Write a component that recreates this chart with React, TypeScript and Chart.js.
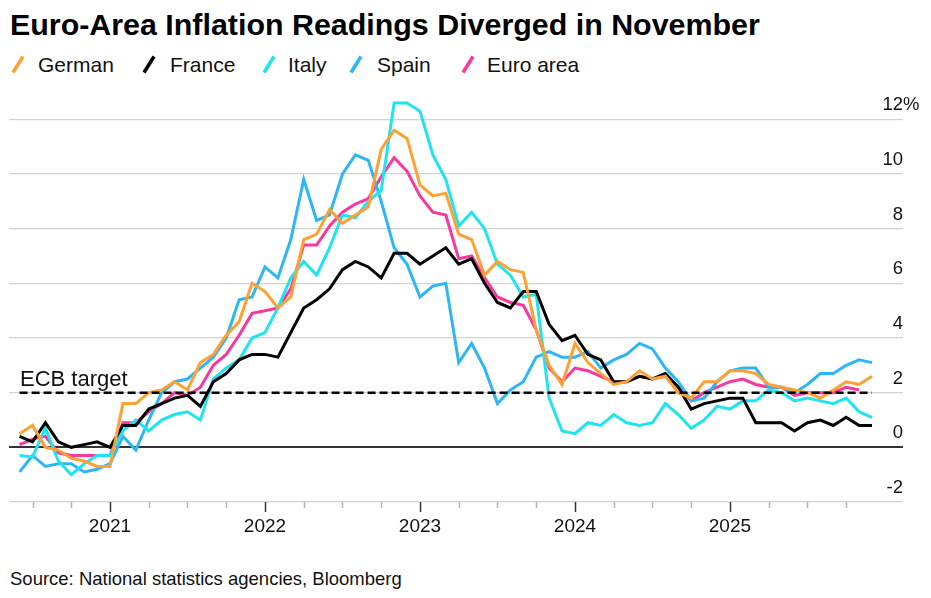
import React, { useEffect, useRef } from 'react';
import { Chart, registerables } from 'chart.js';

Chart.register(...registerables);

// Monthly HICP readings (% y/y), May 2020 – Nov 2025
const startYear = 2020;
const startMonth = 5;

const german = [
  0.5, 0.8, 0.0, -0.1, -0.4, -0.5, -0.7, -0.7,
  1.6, 1.6, 2.0, 2.1, 2.4, 2.1, 3.1, 3.4, 4.1, 4.6, 6.0, 5.7,
  5.1, 5.5, 7.6, 7.8, 8.7, 8.2, 8.5, 8.8, 10.9, 11.6, 11.3, 9.6,
  9.2, 9.3, 7.8, 7.6, 6.3, 6.8, 6.5, 6.4, 4.3, 3.0, 2.3, 3.8,
  3.1, 2.7, 2.3, 2.4, 2.8, 2.5, 2.6, 2.0, 1.8, 2.4, 2.4, 2.8,
  2.8, 2.7, 2.3, 2.2, 2.1, 2.0, 1.8, 2.1, 2.4, 2.3, 2.6,
];

const france = [
  0.4, 0.2, 0.9, 0.2, 0.0, 0.1, 0.2, 0.0,
  0.8, 0.8, 1.4, 1.6, 1.8, 1.9, 1.5, 2.4, 2.7, 3.2, 3.4, 3.4,
  3.3, 4.2, 5.1, 5.4, 5.8, 6.5, 6.8, 6.6, 6.2, 7.1, 7.1, 6.7,
  7.0, 7.3, 6.7, 6.9, 6.0, 5.3, 5.1, 5.7, 5.7, 4.5, 3.9, 4.1,
  3.4, 3.2, 2.4, 2.4, 2.6, 2.5, 2.7, 2.2, 1.4, 1.6, 1.7, 1.8,
  1.8, 0.9, 0.9, 0.9, 0.6, 0.9, 1.0, 0.8, 1.1, 0.8, 0.8,
];

const italy = [
  -0.3, -0.35, 0.7, -0.5, -1.0, -0.6, -0.3, -0.3,
  0.6, 1.0, 0.6, 1.0, 1.2, 1.3, 1.0, 2.5, 2.9, 3.2, 4.0, 4.2,
  5.1, 6.2, 6.8, 6.3, 7.3, 8.5, 8.4, 9.0, 9.4, 12.6, 12.6, 12.3,
  10.7, 9.8, 8.1, 8.6, 8.0, 6.7, 6.3, 5.5, 5.6, 1.8, 0.6, 0.5,
  0.9, 0.8, 1.2, 0.9, 0.8, 0.9, 1.6, 1.2, 0.7, 1.0, 1.5, 1.4,
  1.7, 1.7, 2.1, 2.0, 1.7, 1.8, 1.7, 1.6, 1.8, 1.3, 1.1,
];

const spain = [
  -0.9, -0.3, -0.7, -0.6, -0.6, -0.9, -0.8, -0.6,
  0.4, -0.1, 1.0, 2.0, 2.4, 2.5, 2.9, 3.3, 4.0, 5.4, 5.5, 6.6,
  6.2, 7.6, 9.8, 8.3, 8.5, 10.0, 10.7, 10.5, 9.0, 7.3, 6.7, 5.5,
  5.9, 6.0, 3.1, 3.8, 2.9, 1.6, 2.1, 2.4, 3.3, 3.5, 3.3, 3.3,
  3.5, 2.9, 3.2, 3.4, 3.8, 3.6, 2.9, 2.4, 1.7, 1.8, 2.4, 2.8,
  2.9, 2.9, 2.2, 2.2, 2.0, 2.3, 2.7, 2.7, 3.0, 3.2, 3.1,
];

const euroArea = [
  0.1, 0.3, 0.4, -0.2, -0.3, -0.3, -0.3, -0.3,
  0.9, 0.9, 1.3, 1.6, 2.0, 1.9, 2.2, 3.0, 3.4, 4.1, 4.9, 5.0,
  5.1, 5.8, 7.4, 7.4, 8.1, 8.6, 8.9, 9.1, 9.9, 10.6, 10.1, 9.2,
  8.6, 8.5, 6.9, 7.0, 6.2, 5.5, 5.3, 5.2, 4.3, 2.9, 2.4, 2.9,
  2.8, 2.6, 2.4, 2.4, 2.6, 2.5, 2.6, 2.2, 1.7, 2.0, 2.2, 2.4,
  2.5, 2.3, 2.2, 2.2, 1.9, 2.0, 2.0, 2.0, 2.2, 2.1,
];

const seriesNames = ['German', 'France', 'Italy', 'Spain', 'Euro area'];
const seriesValues = [german, france, italy, spain, euroArea];
const seriesColors = ['#FFA033', '#000000', '#1FE3F0', '#2DB6F3', '#F7399F'];

const ecbTarget = 2;
const ecbLabel = 'ECB target';
const yTickValues = [-2, 0, 2, 4, 6, 8, 10, 12];
const yearLabels = ['2021', '2022', '2023', '2024', '2025'];

const titleText = 'Euro-Area Inflation Readings Diverged in November';
const sourceText = 'Source: National statistics agencies, Bloomberg';

// x value: months after 1 Jan 2021, each reading placed at its month end
const monthX = (i: number) => (startYear - 2021) * 12 + startMonth + i;

const FONT = '"Liberation Sans", Arial, sans-serif';
const TEXT = '#111111';

const legendLayout = [
  { icon: 11, text: 38 },
  { icon: 142, text: 170 },
  { icon: 262, text: 288 },
  { icon: 349, text: 377 },
  { icon: 461, text: 487 },
];

const axesPlugin = {
  id: 'bbgAxes',
  afterDraw(chart: any) {
    const { ctx, chartArea } = chart;
    const xs = chart.scales.x;
    const ys = chart.scales.y;
    ctx.save();
    // x tick marks (quarterly), major at years
    const lastX = monthX(german.length - 1);
    for (let v = Math.ceil(xs.min / 3) * 3; v <= lastX; v += 3) {
      const px = Math.round(xs.getPixelForValue(v)) + 0.5;
      const major = v % 12 === 0;
      ctx.beginPath();
      ctx.strokeStyle = major ? '#333333' : '#b4b4b4';
      ctx.lineWidth = 1.5;
      ctx.moveTo(px, chartArea.bottom);
      ctx.lineTo(px, chartArea.bottom + (major ? 10 : 6));
      ctx.stroke();
    }
    // year labels
    ctx.fillStyle = TEXT;
    ctx.font = `19px ${FONT}`;
    ctx.textAlign = 'center';
    ctx.textBaseline = 'alphabetic';
    yearLabels.forEach((lab) => {
      const v = (parseInt(lab, 10) - 2021) * 12;
      ctx.fillText(lab, xs.getPixelForValue(v), chartArea.bottom + 29.5);
    });
    // y labels above gridlines, right side
    ctx.font = `18.5px ${FONT}`;
    const maxTick = yTickValues[yTickValues.length - 1];
    yTickValues.forEach((v) => {
      const py = ys.getPixelForValue(v) - 9;
      ctx.textAlign = 'right';
      ctx.fillText(String(v), chartArea.right, py);
      if (v === maxTick) {
        ctx.textAlign = 'left';
        ctx.fillText('%', chartArea.right, py);
      }
    });
    // ECB target label
    ctx.font = `22px ${FONT}`;
    ctx.textAlign = 'left';
    ctx.fillText(ecbLabel, chartArea.left + 11, ys.getPixelForValue(ecbTarget) - 7);
    ctx.restore();
  },
};

function LegendIcon({ color }: { color: string }) {
  return (
    <svg width="14" height="19" viewBox="0 0 14 19" style={{ display: 'block' }}>
      <line x1="2" y1="17.5" x2="12" y2="1.5" stroke={color} strokeWidth="3.6" />
    </svg>
  );
}

export default function App() {
  const canvasRef = useRef<HTMLCanvasElement | null>(null);

  useEffect(() => {
    const canvas = canvasRef.current;
    if (!canvas) return;
    const firstX = monthX(0);
    const lastX = monthX(german.length - 1);
    const datasets: any[] = [
      {
        label: ecbLabel,
        data: [
          { x: firstX, y: ecbTarget },
          { x: lastX, y: ecbTarget },
        ],
        borderColor: '#000000',
        borderWidth: 2.5,
        borderDash: [8, 4],
        pointRadius: 0,
      },
      ...seriesNames.map((name, k) => ({
        label: name,
        data: seriesValues[k].map((v, i) => ({ x: monthX(i), y: v })),
        borderColor: seriesColors[k],
        borderWidth: 3,
        pointRadius: 0,
        tension: 0,
      })),
    ];
    const chart = new Chart(canvas, {
      type: 'line',
      data: { datasets },
      options: {
        animation: false,
        responsive: false,
        maintainAspectRatio: false,
        devicePixelRatio: 1,
        layout: { padding: { left: 9, right: 28, top: 7, bottom: 0 } },
        plugins: { legend: { display: false }, tooltip: { enabled: false }, title: { display: false } },
        elements: { point: { radius: 0 }, line: { borderJoinStyle: 'miter' } },
        scales: {
          x: {
            type: 'linear',
            min: -7.82,
            max: 61.4,
            grid: { display: false, drawTicks: false },
            border: { display: false },
            ticks: { display: false },
            afterFit: (s: any) => {
              s.height = 53;
            },
          },
          y: {
            type: 'linear',
            min: -2,
            max: 13,
            afterBuildTicks: (s: any) => {
              s.ticks = yTickValues.map((v) => ({ value: v }));
            },
            grid: {
              color: (c: any) => (c.tick && c.tick.value === 0 ? '#333333' : '#d3d3d3'),
              lineWidth: (c: any) => (c.tick && c.tick.value === 0 ? 2 : 1.2),
              drawTicks: false,
            },
            border: { display: false },
            ticks: { display: false },
            afterFit: (s: any) => {
              s.width = 0;
            },
          },
        },
      } as any,
      plugins: [axesPlugin],
    });
    return () => chart.destroy();
  }, []);

  return (
    <div
      style={{
        position: 'absolute',
        left: 0,
        top: 0,
        width: 931,
        height: 598,
        background: '#ffffff',
        fontFamily: FONT,
        color: TEXT,
        overflow: 'hidden',
      }}
    >
      <div
        style={{
          position: 'absolute',
          left: 10,
          top: 9.1,
          fontSize: 30.4,
          lineHeight: '30.4px',
          fontWeight: 700,
          whiteSpace: 'nowrap',
          color: '#000',
        }}
      >
        {titleText}
      </div>
      {seriesNames.map((name, k) => (
        <React.Fragment key={name}>
          <div style={{ position: 'absolute', left: legendLayout[k].icon, top: 55 }}>
            <LegendIcon color={seriesColors[k]} />
          </div>
          <div
            style={{
              position: 'absolute',
              left: legendLayout[k].text,
              top: 53.7,
              fontSize: 21,
              lineHeight: '21px',
              whiteSpace: 'nowrap',
            }}
          >
            {name}
          </div>
        </React.Fragment>
      ))}
      <canvas
        ref={canvasRef}
        width={931}
        height={470}
        style={{ position: 'absolute', left: 0, top: 85, width: 931, height: 470 }}
      />
      <div
        style={{
          position: 'absolute',
          left: 10,
          top: 569.9,
          fontSize: 18.5,
          lineHeight: '18.5px',
          whiteSpace: 'nowrap',
        }}
      >
        {sourceText}
      </div>
    </div>
  );
}
